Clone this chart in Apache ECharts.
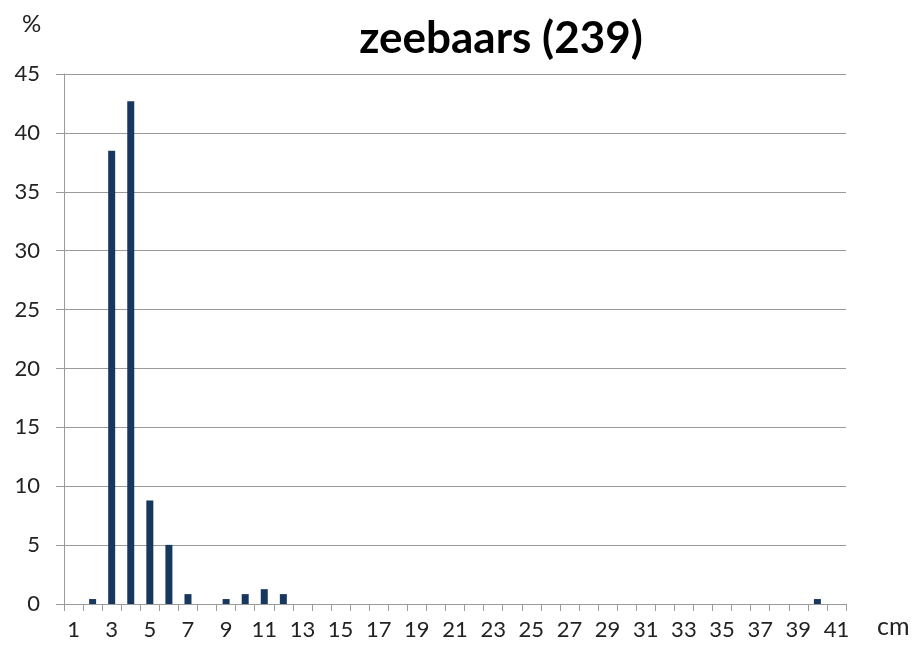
<!DOCTYPE html>
<html><head><meta charset="utf-8">
<script src="https://cdn.jsdelivr.net/npm/echarts@6/dist/echarts.min.js"></script>
<style>html,body{margin:0;padding:0;background:#fff}#c{width:913px;height:648px}</style>
</head><body><div id="c"></div>
<script>
const categories = [];
for (let i = 1; i <= 41; i++) categories.push(String(i));
const lengthsCm = [2, 3, 4, 5, 6, 7, 9, 10, 11, 12, 40];
const percents = [0.42, 38.49, 42.68, 8.79, 5.02, 0.84, 0.42, 0.84, 1.26, 0.84, 0.42];
const yTicks = [0, 5, 10, 15, 20, 25, 30, 35, 40, 45];

const values = categories.map(c => {
  const idx = lengthsCm.indexOf(Number(c));
  return idx >= 0 ? percents[idx] : 0;
});

const font = 'Lato, "Open Sans", sans-serif';
const chart = echarts.init(document.getElementById('c'));
chart.setOption({
  animation: false,
  title: {
    text: 'zeebaars (239)', left: 496, top: 12, textAlign: 'center',
    textStyle: { fontFamily: font, fontSize: 44, fontWeight: 'bold', color: '#000' }
  },
  graphic: [
    { type: 'text', left: 22, top: 12, style: { text: '%', font: '24px ' + font, fill: '#222' } },
    { type: 'text', left: 877, top: 614, style: { text: 'cm', font: '25px ' + font, fill: '#222' } }
  ],
  grid: { left: 64, right: 67, top: 74, bottom: 44 },
  xAxis: {
    type: 'category', data: categories, boundaryGap: true,
    axisLine: { lineStyle: { color: '#9a9a9a', width: 1 } },
    axisTick: { show: true, interval: 0, length: 7, lineStyle: { color: '#9a9a9a' } },
    axisLabel: { interval: 1, fontFamily: font, fontSize: 22, color: '#222', margin: 15 },
    splitLine: { show: false }
  },
  yAxis: {
    type: 'value', min: 0, max: 45, interval: 5,
    axisLine: { show: true, lineStyle: { color: '#9a9a9a' } },
    axisTick: { show: true, length: 8, lineStyle: { color: '#9a9a9a' } },
    axisLabel: { fontFamily: font, fontSize: 22, color: '#222', margin: 24,
      formatter: v => yTicks.includes(v) ? String(v) : '' },
    splitLine: { show: true, lineStyle: { color: '#9a9a9a', width: 1 } }
  },
  series: [{
    type: 'bar', data: values, barWidth: 7,
    itemStyle: { color: '#17375e' }
  }]
});
</script></body></html>
